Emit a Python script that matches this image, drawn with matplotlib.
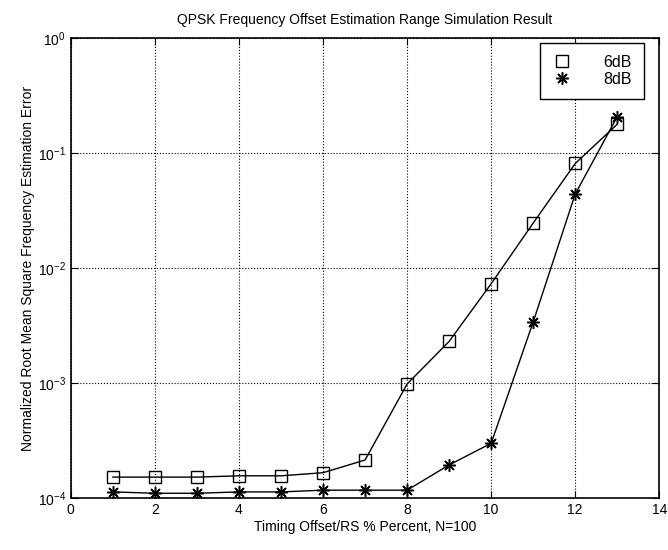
import matplotlib.pyplot as plt
import matplotlib.ticker as mticker

plt.rcParams['font.family'] = ['Liberation Sans', 'DejaVu Sans']

# timing offset (%)
offset = [1, 2, 3, 4, 5, 6, 7, 8, 9, 10, 11, 12, 13]
# normalized RMS frequency estimation error
err_6db = [1.52e-4, 1.52e-4, 1.52e-4, 1.56e-4, 1.56e-4, 1.66e-4, 2.14e-4,
           9.8e-4, 2.3e-3, 7.3e-3, 2.46e-2, 8.1e-2, 0.178]
err_8db = [1.13e-4, 1.1e-4, 1.1e-4, 1.13e-4, 1.13e-4, 1.17e-4, 1.17e-4,
           1.17e-4, 1.94e-4, 2.99e-4, 3.4e-3, 0.044, 0.207]

fig = plt.figure(figsize=(6.68, 5.5), dpi=100)
ax = fig.add_axes([0.106, 0.0945, 0.881, 0.8365])

ax.semilogy(offset, err_6db, color='black', lw=1, marker='s', ms=9,
            mfc='none', mec='black', mew=1, label='6dB')
ax.semilogy(offset, err_8db, color='black', lw=1, marker=(8, 2, 0), ms=9,
            mec='black', mew=1.1, label='8dB')

ax.set_xlim(0, 14)
ax.set_ylim(1e-4, 1)
ax.set_xticks(range(0, 15, 2))
ax.yaxis.set_minor_locator(mticker.NullLocator())
ax.grid(True, which='major', color='black', linestyle=':', lw=0.8)
ax.tick_params(direction='in', top=True, right=True, labelsize=10, length=5)
for s in ax.spines.values():
    s.set_linewidth(1.2)

ax.set_xlabel('Timing Offset/RS % Percent, N=100', fontsize=10, labelpad=2)
ax.set_ylabel('Normalized Root Mean Square Frequency Estimation Error', fontsize=10, labelpad=2)
ax.set_title('QPSK Frequency Offset Estimation Range Simulation Result', fontsize=10, pad=10)

leg = ax.legend(loc='upper right', fontsize=11.5, fancybox=False, edgecolor='black',
                framealpha=1, handlelength=1.2, handletextpad=2.0, borderpad=0.75,
                labelspacing=0.15, borderaxespad=0, bbox_to_anchor=(0.974, 0.99))
leg.get_frame().set_linewidth(1)
for h in leg.legend_handles:
    h.set_linestyle('none')

fig.savefig('out.png', dpi=100)
